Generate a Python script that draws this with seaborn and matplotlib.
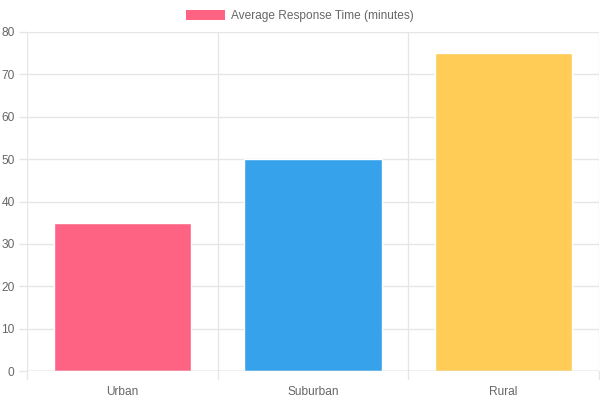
import matplotlib
matplotlib.use("Agg")
import matplotlib.pyplot as plt
from matplotlib.patches import Patch
import seaborn as sns
import pandas as pd

categories = ["Urban", "Suburban", "Rural"]
values = [35, 50, 75]
colors = ["#ff6384", "#36a2eb", "#ffcd56"]
series_label = "Average Response Time (minutes)"
yticks = [0, 10, 20, 30, 40, 50, 60, 70, 80]

sns.set_theme(style="white")
plt.rcParams['font.family'] = ['Liberation Sans', 'DejaVu Sans']

df = pd.DataFrame({"category": categories, "value": values})

fig = plt.figure(figsize=(6, 4), dpi=100)
ax = fig.add_axes([27/600, 29/400, 572/600, 339/400])

sns.barplot(data=df, x="category", y="value", hue="category", palette=colors,
            width=0.72, saturation=1, legend=False, ax=ax, zorder=3)

ax.set_ylim(0, 80)
ax.set_xlim(-0.5, 2.5)
ax.set_yticks(yticks)
ax.set_xlabel("")
ax.set_ylabel("")

grid_c = "#e6e6e6"
for y in yticks:
    ax.axhline(y, color=grid_c, lw=1, zorder=0)
for x in [-0.5, 0.5, 1.5, 2.5]:
    ax.axvline(x, color=grid_c, lw=1, zorder=0)
ax.axhline(0, color="#cccccc", lw=1, zorder=4)

for s in ax.spines.values():
    s.set_visible(False)

ax.tick_params(axis="y", length=6, width=1, color=grid_c, labelsize=8.6,
               labelcolor="#666666", pad=3, left=True)
ax.tick_params(axis="x", length=0, labelsize=8.6, labelcolor="#666666", pad=11)
# x tick marks at category boundaries
for x in [-0.5, 0.5, 1.5, 2.5]:
    ax.plot([x, x], [0, -8/339*80], color=grid_c, lw=1, clip_on=False, zorder=0)

handle = Patch(facecolor=colors[0], edgecolor="none")
fig.legend([handle], [series_label], loc="center", bbox_to_anchor=(0.5, 1 - 16/400),
           frameon=False, handlelength=3.3, handleheight=1.0, handletextpad=0.5,
           fontsize=8.6, labelcolor="#666666")

fig.savefig("out.png", dpi=100)
